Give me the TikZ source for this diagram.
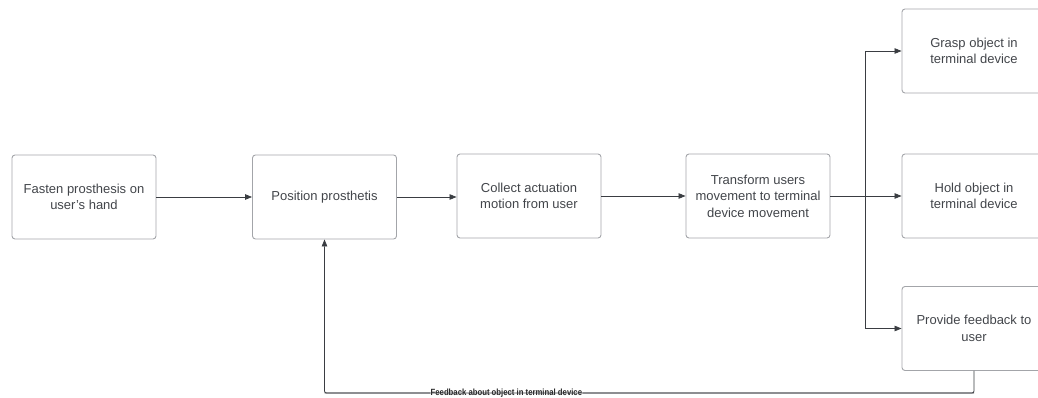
\documentclass[tikz,border=0pt]{standalone}
\usepackage{fontspec}
\usepackage{graphicx}
\setmainfont{Liberation Sans}
\usetikzlibrary{arrows.meta}
\definecolor{inkline}{HTML}{3A3D42}
\definecolor{boxline}{HTML}{A3A5A9}
\definecolor{boxtext}{HTML}{42454A}
\newcommand{\narrowtext}[1]{\scalebox{0.86}[1]{#1}}
\tikzset{
  stepbox/.style={draw=boxline, line width=0.9pt, rounded corners=3pt,
    minimum width=144pt, minimum height=84pt, align=center,
    text=boxtext, font=\fontsize{13}{16.5}\selectfont, inner sep=0pt},
  flow/.style={draw=inkline, line width=0.8pt, -{Triangle[length=7pt,width=5.5pt]}},
  link/.style={draw=inkline, line width=0.8pt},
  fblabel/.style={fill=white, inner sep=0.5pt, text=black!85,
    font=\fontsize{9}{10}\selectfont\bfseries}
}
\begin{document}
\begin{tikzpicture}[x=1pt,y=-1pt]
\useasboundingbox (0,0) rectangle (1038,398);
\clip (0,0) rectangle (1038,398);

% process steps
\node[stepbox] (fasten)   at (84,197)    {Fasten prosthesis on\\user's hand};
\node[stepbox] (position) at (324.5,197) {Position prosthetis};
\node[stepbox] (collect)  at (529,196)   {Collect actuation\\motion from user};
\node[stepbox] (transform) at (758,196)  {Transform users\\movement to terminal\\device movement};

% terminal device outcomes
\node[stepbox] (grasp)    at (974,51)    {Grasp object in\\terminal device};
\node[stepbox] (hold)     at (974,196)   {Hold object in\\terminal device};
\node[stepbox] (provide)  at (974,328.5) {Provide feedback to\\user};

% main chain
\draw[flow] (fasten.east) -- (fasten.east -| position.west);
\draw[flow] (position.east) -- (position.east -| collect.west);
\draw[flow] (collect.east) -- (transform.west);

% fan-out to the three outcomes
\coordinate (split) at (865,196);
\draw[flow] (transform.east) -- (hold.west);
\draw[flow] (split) |- (grasp.west);
\draw[flow] (split) |- (provide.west);

% feedback loop back to positioning
\coordinate (fbturn) at (974,393);
\coordinate (fbcorner) at (position.south |- fbturn);
\draw[link, rounded corners=2pt] (provide.south) -- (fbturn)
  -- node[fblabel, pos=0.72] {\narrowtext{Feedback about object in terminal device}} (fbcorner);
\draw[flow, rounded corners=2pt] (fbturn) -- (fbcorner) -- (position.south);
\end{tikzpicture}
\end{document}
